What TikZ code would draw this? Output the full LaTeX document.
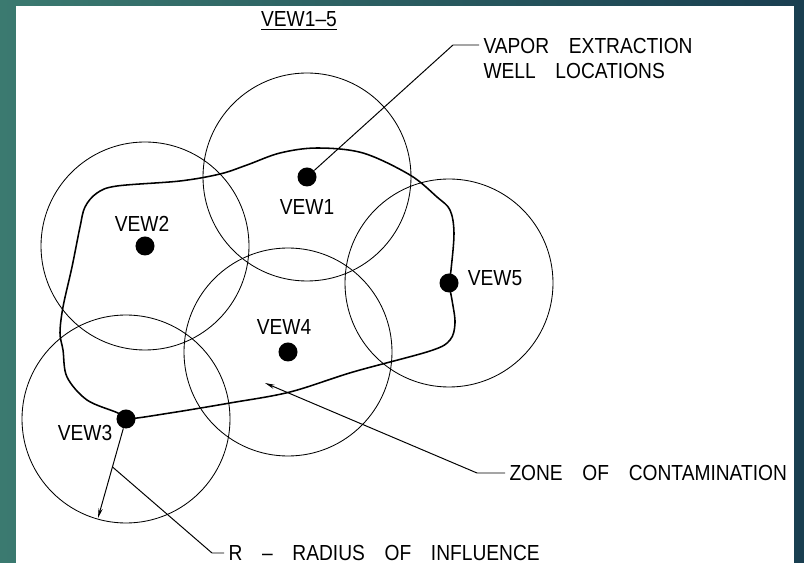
\documentclass[tikz,border=0pt]{standalone}
\usepackage{fontspec}
\newfontfamily\cadfont[FakeStretch=0.88,WordSpace=3.7]{Liberation Sans}
\usepackage{tikz}
\usetikzlibrary{arrows.meta}
\definecolor{bgleft}{RGB}{59,122,112}
\definecolor{bgright}{RGB}{25,62,80}

\begin{document}
\begin{tikzpicture}[
  x=0.025cm, y=-0.025cm,
  every node/.style={font=\cadfont\fontsize{15.5}{17.4}\selectfont},
  well/.style={circle, fill=black, minimum size=0.475cm, inner sep=0pt},
  roi/.style={line width=0.6pt},
  plume/.style={line width=1.1pt},
  lead/.style={line width=0.7pt},
  leadtip/.style={-{Stealth[length=7pt,width=3pt]}},
  lbl/.style={inner sep=3pt},
]
\useasboundingbox (0,0) rectangle (804,563);
\fill[left color=bgleft, right color=bgright] (0,0) rectangle (804,563);
\fill[white] (16,6) rectangle (794,563);
\node[well] (w1) at (307,177) {};
\node[well] (w2) at (145,246) {};
\node[well] (w3) at (126,419) {};
\node[well] (w4) at (288,352) {};
\node[well] (w5) at (449,283) {};
\draw[roi] (w1.center) circle (104);
\draw[roi] (w2.center) circle (104);
\draw[roi] (w3.center) circle (104);
\draw[roi] (w4.center) circle (104);
\draw[roi] (w5.center) circle (104);
\draw[plume] plot[smooth cycle, tension=0.55] coordinates {(w3.center) (170,413) (230,403) (290,392) (353,372) (430,351) (450,340) (455,323) (452,300) (w5.center) (451,270) (454,233) (450,210) (437,197) (410,175) (363,153) (317,148) (280,153) (247,165) (220,174) (180,181) (117,186) (97,193) (85,207) (80,227) (72,267) (63,307) (60,333) (63,350) (67,377) (87,400) (118,413)};
\node[lbl] (t1) at (307,207) {VEW1};
\node[lbl] (t2) at (142,224) {VEW2};
\node[lbl] (t3) at (85,433) {VEW3};
\node[lbl] (t4) at (284,327) {VEW4};
\node[lbl] (t5) at (495,278) {VEW5};
\node[lbl, anchor=base] (title) at (299,27) {\underline{VEW1–5}};
\node[lbl, anchor=north west, align=left] (vapor) at (479,34) {VAPOR EXTRACTION\\WELL LOCATIONS};
\coordinate (k1) at (453,45);
\draw[lead] (w1) -- (k1) -- (k1 -| vapor.west);
\node[lbl, anchor=west] (zonetxt) at (505,473) {ZONE OF CONTAMINATION};
\coordinate (k2) at (477,473);
\coordinate (a2) at (265,383);
\draw[lead, leadtip] (zonetxt.west) -- (k2) -- (a2);
\coordinate (r3) at (98,518);
\draw[lead, leadtip] (w3) -- coordinate[pos=0.43] (m3) (r3);
\node[lbl, anchor=west] (rtxt) at (224,553) {R – RADIUS OF INFLUENCE};
\coordinate (k3) at (212,553);
\draw[lead] (rtxt.west) -- (k3) -- (m3);
\end{tikzpicture}
\end{document}
